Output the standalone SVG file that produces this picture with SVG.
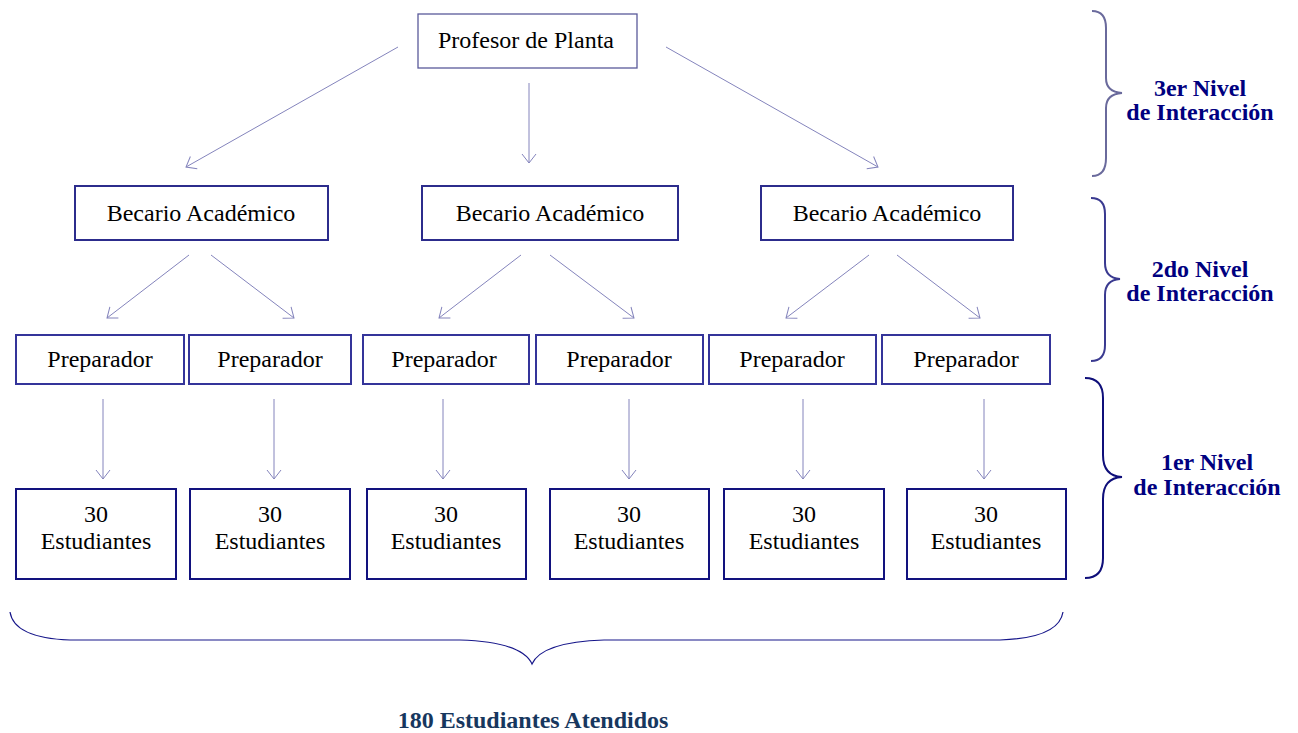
<svg xmlns="http://www.w3.org/2000/svg" width="1298" height="733" viewBox="0 0 1298 733">
<defs>
<marker id="arr" viewBox="0 0 20 20" refX="10" refY="10" markerWidth="20" markerHeight="20" markerUnits="userSpaceOnUse" orient="auto">
<path d="M1,3 L10,10 L1,17" fill="none" stroke="#8484bc" stroke-width="1"/>
</marker>
<style>
.c{stroke:#8484bc;stroke-width:1;fill:none;marker-end:url(#arr)}
.b0{fill:#fff;stroke:#5a5a9a;stroke-width:1.3}
.b1{fill:#fff;stroke:#2c2c8c;stroke-width:2}
.b2{fill:#fff;stroke:#34349a;stroke-width:2}
.b3{fill:#fff;stroke:#12127e;stroke-width:2}
</style>
</defs>
<rect width="1298" height="733" fill="#fff"/>
<g id="connectors">
<line class="c" x1="398" y1="47" x2="186" y2="167"/>
<line class="c" x1="529" y1="83" x2="529" y2="163"/>
<line class="c" x1="666" y1="47" x2="878" y2="167"/>
<line class="c" x1="189" y1="255" x2="107" y2="318"/>
<line class="c" x1="211" y1="255" x2="294" y2="318"/>
<line class="c" x1="521" y1="255" x2="439" y2="318"/>
<line class="c" x1="550" y1="255" x2="634" y2="318"/>
<line class="c" x1="869" y1="255" x2="786" y2="318"/>
<line class="c" x1="897" y1="255" x2="980" y2="318"/>
<line class="c" x1="103" y1="399" x2="103" y2="479"/>
<line class="c" x1="274" y1="399" x2="274" y2="479"/>
<line class="c" x1="443" y1="399" x2="443" y2="479"/>
<line class="c" x1="629" y1="399" x2="629" y2="479"/>
<line class="c" x1="803" y1="399" x2="803" y2="479"/>
<line class="c" x1="984" y1="399" x2="984" y2="479"/>
</g>
<g font-family="Liberation Serif" font-size="24" fill="#000" text-anchor="middle">
<g id="profesor"><rect class="b0" x="418" y="14" width="219" height="54"/><text x="526" y="48">Profesor de Planta</text></g>
<g id="becario1"><rect class="b1" x="75" y="186" width="253" height="54"/><text x="201" y="221">Becario Académico</text></g>
<g id="becario2"><rect class="b1" x="422" y="186" width="256" height="54"/><text x="550" y="221">Becario Académico</text></g>
<g id="becario3"><rect class="b1" x="761" y="186" width="252" height="54"/><text x="887" y="221">Becario Académico</text></g>
<g id="prep1"><rect class="b2" x="16" y="335" width="168" height="49"/><text x="100" y="367">Preparador</text></g>
<g id="prep2"><rect class="b2" x="189" y="335" width="162" height="49"/><text x="270" y="367">Preparador</text></g>
<g id="prep3"><rect class="b2" x="363" y="335" width="166" height="49"/><text x="444" y="367">Preparador</text></g>
<g id="prep4"><rect class="b2" x="536" y="335" width="167" height="49"/><text x="619" y="367">Preparador</text></g>
<g id="prep5"><rect class="b2" x="709" y="335" width="167" height="49"/><text x="792" y="367">Preparador</text></g>
<g id="prep6"><rect class="b2" x="882" y="335" width="168" height="49"/><text x="966" y="367">Preparador</text></g>
<g id="est1"><rect class="b3" x="16" y="489" width="160" height="90"/><text x="96" y="522">30</text><text x="96" y="549">Estudiantes</text></g>
<g id="est2"><rect class="b3" x="190" y="489" width="160" height="90"/><text x="270" y="522">30</text><text x="270" y="549">Estudiantes</text></g>
<g id="est3"><rect class="b3" x="367" y="489" width="159" height="90"/><text x="446" y="522">30</text><text x="446" y="549">Estudiantes</text></g>
<g id="est4"><rect class="b3" x="550" y="489" width="159" height="90"/><text x="629" y="522">30</text><text x="629" y="549">Estudiantes</text></g>
<g id="est5"><rect class="b3" x="724" y="489" width="160" height="90"/><text x="804" y="522">30</text><text x="804" y="549">Estudiantes</text></g>
<g id="est6"><rect class="b3" x="907" y="489" width="159" height="90"/><text x="986" y="522">30</text><text x="986" y="549">Estudiantes</text></g>
</g>
<g id="braces" fill="none">
<path d="M1092,11 Q1106,11 1106,28 L1106,78 Q1106,92 1122,93 Q1106,94 1106,108 L1106,158 Q1106,176 1092,176" stroke="#6a6a9c" stroke-width="2"/>
<path d="M1091,198 Q1105,198 1105,214 L1105,263 Q1105,278 1120,279 Q1105,280 1105,295 L1105,345 Q1105,361 1091,361" stroke="#3a3a90" stroke-width="2"/>
<path d="M1085,378 Q1103,378 1103,398 L1103,455 Q1103,476 1122,477 Q1103,478 1103,499 L1103,558 Q1103,578 1085,578" stroke="#0f0f7a" stroke-width="2"/>
<path d="M10,612 Q14,638 70,640 L460,640 Q522,642 532,664 Q542,642 604,640 L1000,640 Q1059,638 1063,612" stroke="#16168a" stroke-width="1.2"/>
</g>
<g id="labels" font-family="Liberation Serif" font-size="24" font-weight="bold" fill="#00007f" text-anchor="middle">
<text x="1200" y="96">3er Nivel</text>
<text x="1200" y="120">de Interacción</text>
<text x="1200" y="277">2do Nivel</text>
<text x="1200" y="301">de Interacción</text>
<text x="1207" y="470">1er Nivel</text>
<text x="1207" y="495">de Interacción</text>
<text x="533" y="728" fill="#17375e">180 Estudiantes Atendidos</text>
</g>
</svg>
